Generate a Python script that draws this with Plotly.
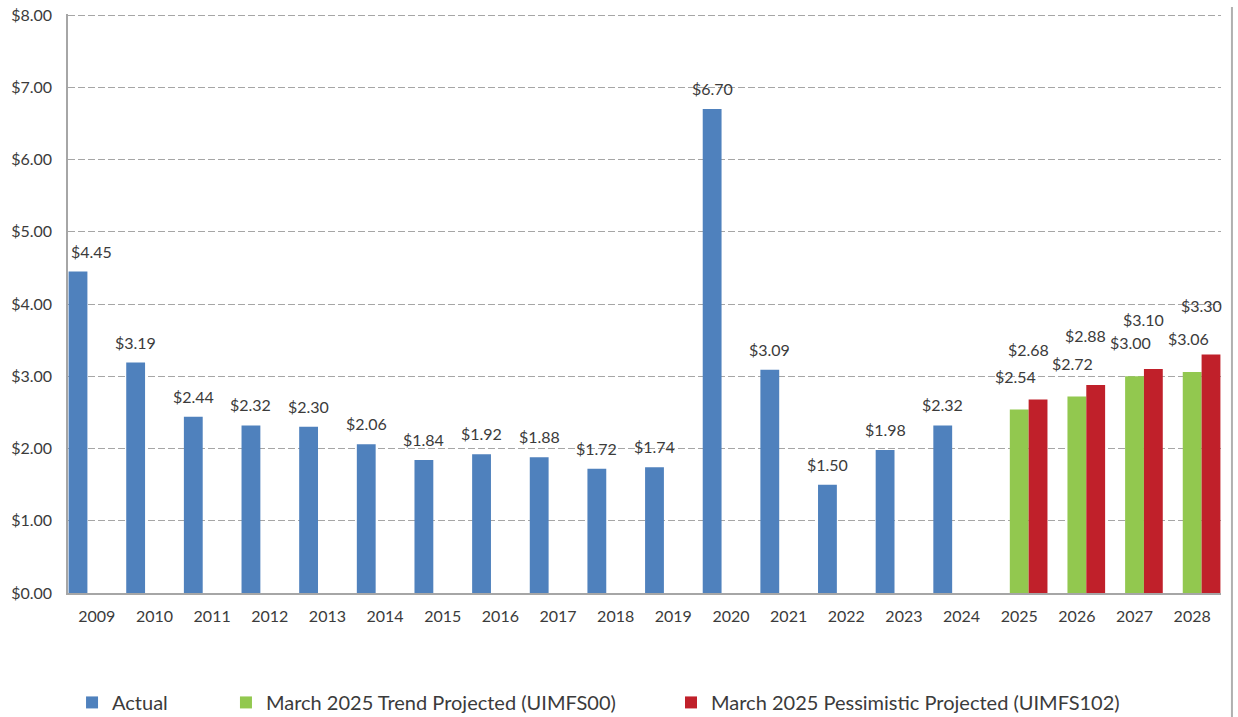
import plotly.graph_objects as go

years = [str(y) for y in range(2009, 2029)]
actual = [4.45, 3.19, 2.44, 2.32, 2.30, 2.06, 1.84, 1.92, 1.88, 1.72, 1.74, 6.70,
          3.09, 1.50, 1.98, 2.32, None, None, None, None]
trend = [None] * 16 + [2.54, 2.72, 3.00, 3.06]
pessimistic = [None] * 16 + [2.68, 2.88, 3.10, 3.30]

names = ["Actual", "March 2025 Trend Projected (UIMFS00)",
         "March 2025 Pessimistic Projected (UIMFS102)"]
colors = ["#4F81BD", "#92C84F", "#C0202A"]
series = [actual, trend, pessimistic]

FONT = "Lato"
TXT = "#3b3b3b"
LABEL_SIZE = 16

fig = go.Figure()
legends = ["legend", "legend2", "legend3"]
for s, n, c, lg in zip(series, names, colors, legends):
    fig.add_trace(go.Bar(x=years, y=s, name=n, marker=dict(color=c, line=dict(width=0)),
                         legend=lg, showlegend=True, hoverinfo="x+y"))

# data labels (x given as category index on the category axis)
cat_px = 1153 / len(years)
slot = cat_px * 0.98 / 3
label_cfg = [(-slot, 9), (0 - 4, 22), (slot - 10, 38)]
for s, (xs, ys) in zip(series, label_cfg):
    for i, v in enumerate(s):
        if v is None:
            continue
        txt = f"${v:.2f}"
        half_w = 22
        center_px = (i + 0.5) * cat_px + xs
        if center_px - half_w < 0:
            # keep the label inside the plot area (like the source chart)
            fig.add_annotation(x=-0.5, y=v, text=txt, showarrow=False, xanchor="left",
                               xshift=1, yshift=ys, yanchor="bottom",
                               font=dict(family=FONT, size=LABEL_SIZE, color=TXT))
        else:
            fig.add_annotation(x=i, y=v, text=txt, showarrow=False,
                               xshift=xs, yshift=ys, yanchor="bottom",
                               font=dict(family=FONT, size=LABEL_SIZE, color=TXT))

leg_common = dict(y=-0.189, xanchor="left", yanchor="middle", orientation="h",
                  font=dict(family=FONT, size=20, color=TXT),
                  bgcolor="rgba(0,0,0,0)")

fig.update_layout(
    width=1238, height=717,
    margin=dict(l=68, r=17, t=14, b=124, autoexpand=False),
    paper_bgcolor="white", plot_bgcolor="white",
    showlegend=True,
    barmode="group", bargap=0.02, bargroupgap=0,
    font=dict(family=FONT, size=16, color=TXT),
    xaxis=dict(type="category", range=[-0.5, len(years) - 0.5], autorange=False,
               showgrid=False, showline=True, linecolor="#a6a6a6",
               linewidth=1.5, ticks="", ticklabelstandoff=8, automargin=False,
               tickfont=dict(family=FONT, size=16, color=TXT)),
    yaxis=dict(range=[0, 8.015], autorange=False, tick0=0, dtick=1, tickformat="$.2f",
               showgrid=True, gridcolor="#a6a6a6", griddash="7px,3px", gridwidth=1,
               showline=True, linecolor="#a6a6a6", linewidth=1.5, zeroline=False,
               ticks="", ticklabelstandoff=11, automargin=False,
               ticklabeloverflow="allow",
               tickfont=dict(family=FONT, size=16, color=TXT)),
    legend=dict(x=0.0035, **leg_common),
    legend2=dict(x=0.1370, **leg_common),
    legend3=dict(x=0.5230, **leg_common),
)

# chart frame right border
fig.add_shape(type="line", xref="paper", yref="paper", x0=1.0095, x1=1.0095,
              y0=-0.215, y1=1.012, line=dict(color="#b0b0b0", width=2))

fig.write_html("out.html",
               config={"displayModeBar": False},
               post_script="document.body.style.margin='0';"
                           "document.body.style.overflow='hidden';")
